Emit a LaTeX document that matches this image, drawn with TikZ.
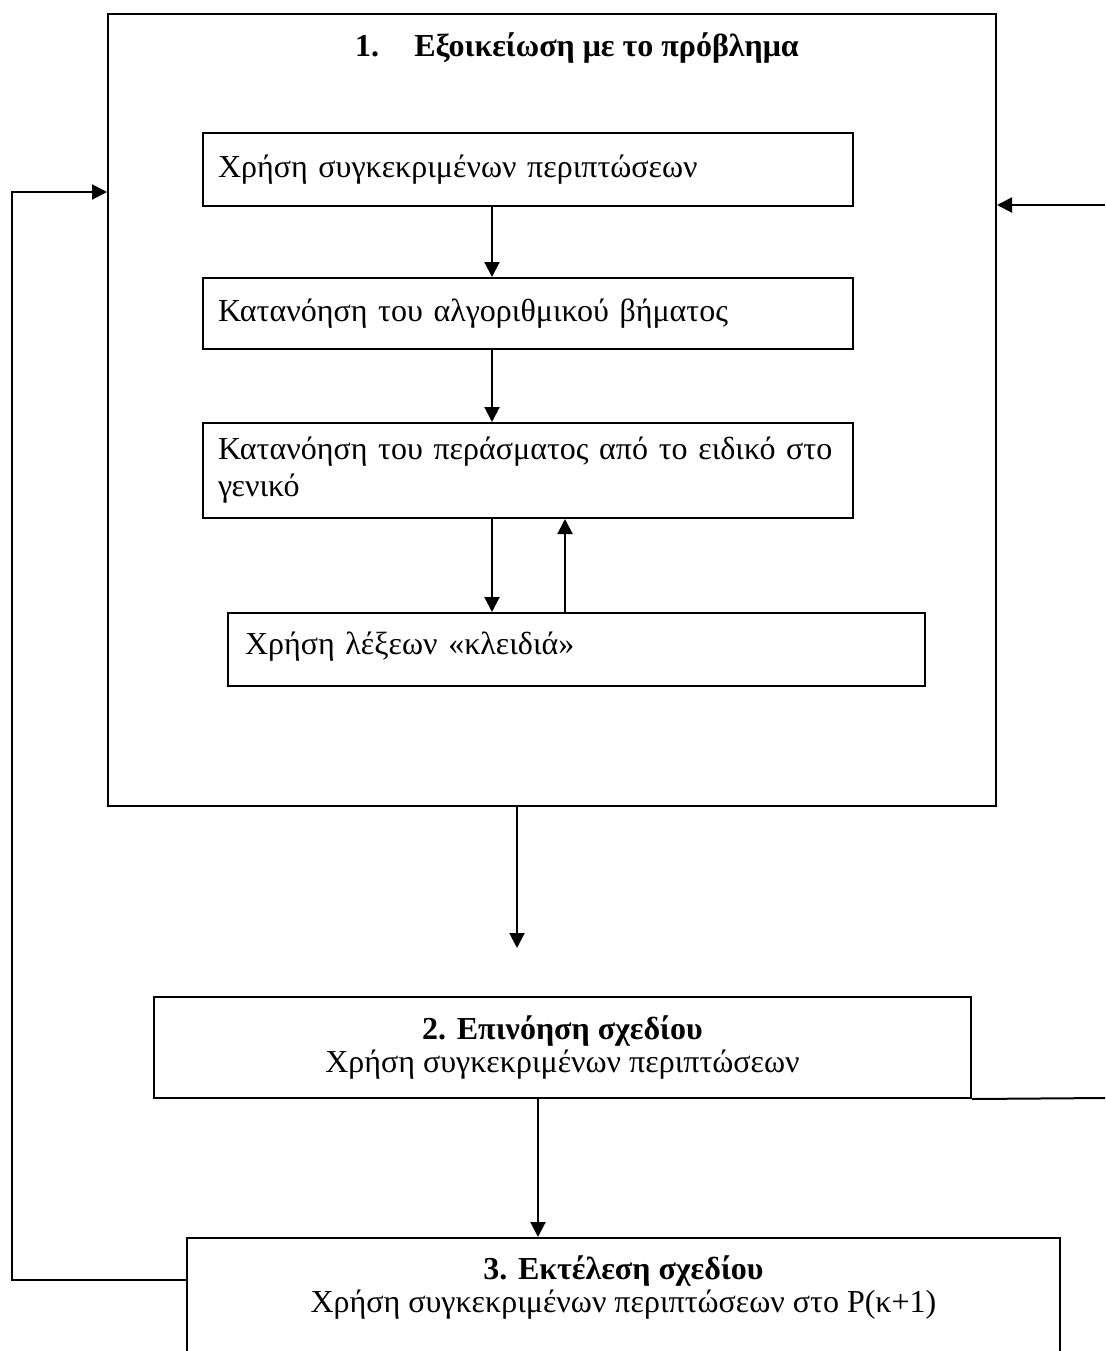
\documentclass[tikz,border=0pt]{standalone}
\usepackage{fontspec}
\setmainfont{Liberation Serif}
\usetikzlibrary{positioning,arrows.meta}

\begin{document}
\begin{tikzpicture}[x=0.5pt,y=-0.5pt]
    \tikzset{box/.style={
        draw, line width=1pt, inner sep=0pt, font=\fontsize{16}{18.5}\selectfont
      },
      subbox/.style={box, align=left, inner xsep=7.5pt, text width=310pt, minimum width=325pt},
      arr/.style={-{Triangle[length=7.5pt,width=7.5pt]}, line width=1pt}
    }
    \clip (0,0) rectangle (1105,1351);

    \node[box, minimum width=444pt, minimum height=396pt] (prob) at (552,410) {};
    \node[font=\fontsize{16}{18.5}\selectfont\bfseries] (title) at (577,48) {1.\hspace{1.1em}Εξοικείωση με το πρόβλημα};

    \node[subbox, minimum height=36.5pt] (cases) at (528,169.5) {Χρήση συγκεκριμένων περιπτώσεων};
    \node[subbox, minimum height=35.5pt] (algo) at (528,313.5) {Κατανόηση του αλγοριθμικού βήματος};
    \node[subbox, minimum height=47.5pt] (general) at (528,470.5) {Κατανόηση του περάσματος από το ειδικό στο\\γενικό};
    \node[subbox, inner xsep=8.5pt, text width=331.5pt, minimum width=348.5pt, minimum height=36.5pt] (keys) at (576.5,649.5) {\raisebox{6pt}{Χρήση λέξεων «κλειδιά»}};

    \node[box, align=center, minimum width=408.5pt, minimum height=50.5pt] (plan) at (562.5,1047.5)
      {\textbf{2. Επινόηση σχεδίου}\\[-2pt]Χρήση συγκεκριμένων περιπτώσεων};
    \node[box, align=center, anchor=north, minimum width=436.5pt, inner ysep=9pt] (exec) at (623.5,1237)
      {\textbf{3. Εκτέλεση σχεδίου}\\[-2pt]Χρήση συγκεκριμένων περιπτώσεων στο P(κ+1)\\[30pt]};

    \coordinate (colA) at (492,0);
    \coordinate (colB) at (565,0);
    \coordinate (colD) at (538,0);
    \coordinate (drop) at (517,948);
    \coordinate (backlow) at (12,1280);
    \coordinate (backhigh) at (12,192);
    \coordinate (rightlow) at (1105,1098);
    \coordinate (righthigh) at (1105,205);

    \draw[arr] (cases.south -| colA) -- (algo.north -| colA);
    \draw[arr] (algo.south -| colA) -- (general.north -| colA);
    \draw[arr] (general.south -| colA) -- (keys.north -| colA);
    \draw[arr] (keys.north -| colB) -- (general.south -| colB);

    \draw[arr] (prob.south -| drop) -- (drop);
    \draw[arr] (plan.south -| colD) -- (exec.north -| colD);

    \draw[arr] (exec.west |- backlow) -- (backlow) -- (backhigh) -- (prob.west |- backhigh);
    \draw[line width=1pt] (plan.south east) -- (rightlow);
    \draw[arr] (righthigh) -- (prob.east |- righthigh);
  \end{tikzpicture}
\end{document}
